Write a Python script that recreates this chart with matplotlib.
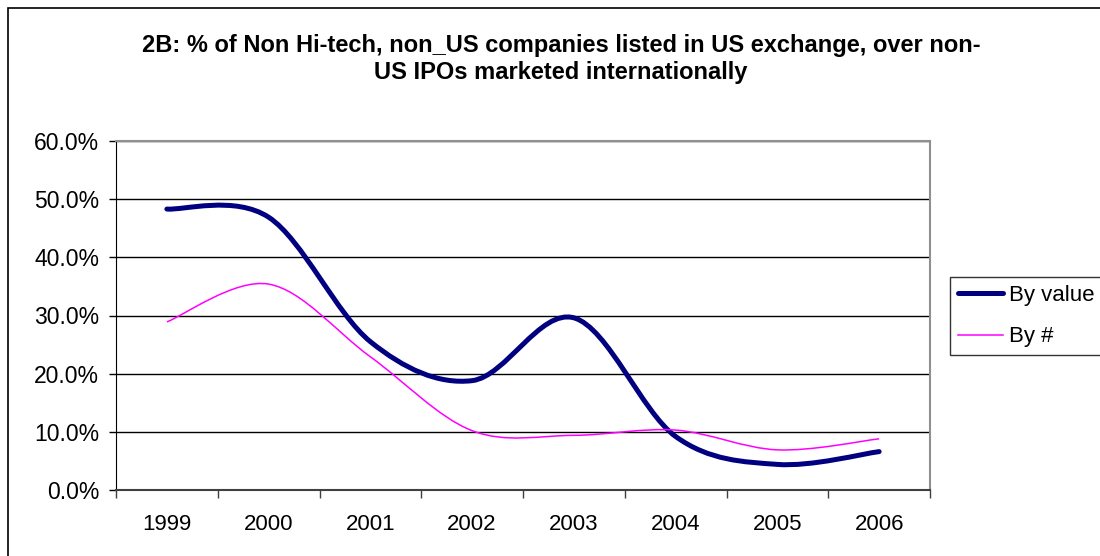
import matplotlib
matplotlib.use("Agg")
import matplotlib.pyplot as plt
from matplotlib.path import Path
from matplotlib.patches import PathPatch, Rectangle
from matplotlib.lines import Line2D
from matplotlib.ticker import FuncFormatter, FixedLocator

plt.rcParams['font.family'] = ['Liberation Sans', 'DejaVu Sans']

years = ["1999", "2000", "2001", "2002", "2003", "2004", "2005", "2006"]
by_value = [0.483, 0.469, 0.255, 0.188, 0.296, 0.092, 0.044, 0.066]
by_count = [0.289, 0.354, 0.229, 0.102, 0.094, 0.103, 0.069, 0.088]

title = ("2B: % of Non Hi-tech, non_US companies listed in US exchange, over non-\n"
         "US IPOs marketed internationally")


def smooth_path(ys):
    # Excel-style smoothed line: cubic bezier through every point
    n = len(ys)
    pts = [(i, y) for i, y in enumerate(ys)]
    verts = [pts[0]]
    codes = [Path.MOVETO]
    for i in range(n - 1):
        p_prev = pts[max(i - 1, 0)]
        p0 = pts[i]
        p1 = pts[i + 1]
        p_next = pts[min(i + 2, n - 1)]
        c1 = (p0[0] + (p1[0] - p_prev[0]) / 6, p0[1] + (p1[1] - p_prev[1]) / 6)
        c2 = (p1[0] - (p_next[0] - p0[0]) / 6, p1[1] - (p_next[1] - p0[1]) / 6)
        verts += [c1, c2, p1]
        codes += [Path.CURVE4] * 3
    return Path(verts, codes)


fig = plt.figure(figsize=(11, 5.56), dpi=100)
ax = fig.add_axes([116 / 1100, 66 / 556, 814 / 1100, 349 / 556])

ax.add_patch(PathPatch(smooth_path(by_value), fill=False, edgecolor="#000080",
                       lw=3.6, capstyle="round", joinstyle="round", zorder=3))
ax.add_patch(PathPatch(smooth_path(by_count), fill=False, edgecolor="#FF00FF",
                       lw=1.1, zorder=3))

ax.set_xlim(-0.5, len(years) - 0.5)
ax.set_ylim(0, 0.6)
ax.set_yticks([0, 0.1, 0.2, 0.3, 0.4, 0.5, 0.6])
ax.yaxis.set_major_formatter(FuncFormatter(lambda v, p: f"{v * 100:.1f}%"))
ax.grid(axis="y", color="black", lw=1)
ax.set_axisbelow(True)

ax.xaxis.set_major_locator(FixedLocator([i - 0.5 for i in range(len(years) + 1)]))
ax.xaxis.set_minor_locator(FixedLocator(range(len(years))))
ax.set_xticklabels([], minor=False)
ax.set_xticklabels(years, minor=True)
ax.tick_params(axis="x", which="major", length=6, width=1, color="#404040")
ax.tick_params(axis="x", which="minor", length=0, pad=17, labelsize=16)
ax.tick_params(axis="y", length=5, width=1, labelsize=16.5, pad=7)

for side in ["top", "right"]:
    ax.spines[side].set_color("#909090")
    ax.spines[side].set_linewidth(1.5)
ax.spines["left"].set_color("black")
ax.spines["bottom"].set_color("#404040")
ax.spines["bottom"].set_linewidth(1.5)

fig.text(0.51, 1 - 59 / 556, title, ha="center", va="center", fontsize=17,
         fontweight="bold", linespacing=1.22)

handles = [Line2D([], [], color="#000080", lw=3.6, solid_capstyle="round"),
           Line2D([], [], color="#FF00FF", lw=1.1)]
leg = fig.legend(handles, ["By value", "By #"], loc="upper left",
                 bbox_to_anchor=(950 / 1100, 1 - 277 / 556), fontsize=16,
                 frameon=True, fancybox=False, borderaxespad=0, handlelength=2.05,
                 handletextpad=0.25, borderpad=0.35, labelspacing=0.93)
leg.get_frame().set_edgecolor("black")
leg.get_frame().set_linewidth(1)

fig.patches.append(Rectangle((8 / 1100, -0.1), 1.2, 1.1 - 8 / 556, fill=False,
                             edgecolor="black", lw=1.2, transform=fig.transFigure,
                             clip_on=False))

fig.savefig("out.png", dpi=100)
